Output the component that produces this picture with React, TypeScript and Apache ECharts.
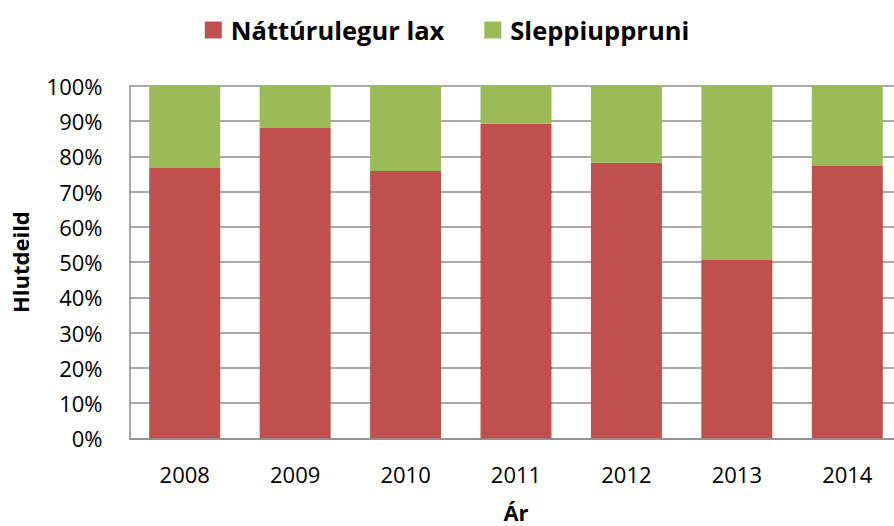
import React, { useEffect, useRef } from "react";
import * as echarts from "echarts";

const years = ["2008", "2009", "2010", "2011", "2012", "2013", "2014"];
const wildSalmon = [76.7, 88.1, 75.9, 89.3, 78.2, 50.6, 77.3];
const escapedOrigin = [23.3, 11.9, 24.1, 10.7, 21.8, 49.4, 22.7];
const seriesNames = ["Náttúrulegur lax", "Sleppiuppruni"];

const FONT = "'Open Sans', sans-serif";

export default function App() {
  const ref = useRef<HTMLDivElement>(null);
  useEffect(() => {
    if (!ref.current) return;
    const chart = echarts.init(ref.current, undefined, { renderer: "svg" });
    chart.setOption({
      animation: false,
      backgroundColor: "#ffffff",
      textStyle: { fontFamily: FONT },
      legend: {
        top: 12,
        left: "center",
        itemWidth: 17,
        itemHeight: 17,
        itemGap: 40,
        icon: "rect",
        textStyle: { fontSize: 25.5, fontWeight: "bold", color: "#000", fontFamily: FONT, padding: [0, 0, 0, 4] },
        data: seriesNames,
      },
      grid: { left: 129.5, width: 773, top: 86, bottom: 87.7, outerBoundsMode: "none", containLabel: false },
      xAxis: {
        type: "category",
        data: years,
        name: "Ár",
        nameLocation: "middle",
        nameGap: 63,
        nameTextStyle: { fontSize: 22, fontWeight: "bold", color: "#000", fontFamily: FONT },
        axisLine: { lineStyle: { color: "#8c8c8c", width: 1.5 } },
        axisTick: { show: false },
        axisLabel: { fontSize: 22, color: "#000", margin: 25, fontFamily: FONT },
      },
      yAxis: {
        type: "value",
        min: 0,
        max: 100,
        interval: 10,
        name: "Hlutdeild",
        nameLocation: "middle",
        nameGap: 99,
        nameTextStyle: { fontSize: 22, fontWeight: "bold", color: "#000", fontFamily: FONT },
        axisLine: { show: true, lineStyle: { color: "#8c8c8c", width: 1.5 } },
        axisTick: { show: false },
        splitLine: { lineStyle: { color: "#8c8c8c", width: 1.5 } },
        axisLabel: { fontSize: 22, color: "#000", margin: 27, formatter: "{value}%", fontFamily: FONT },
      },
      series: [
        {
          name: seriesNames[0],
          type: "bar",
          stack: "total",
          data: wildSalmon,
          barCategoryGap: "35.7%",
          itemStyle: { color: "#C0504D" },
        },
        {
          name: seriesNames[1],
          type: "bar",
          stack: "total",
          data: escapedOrigin,
          barCategoryGap: "35.7%",
          itemStyle: { color: "#9BBB59" },
        },
      ],
    });
    return () => chart.dispose();
  }, []);
  return (
    <div
      ref={ref}
      style={{ position: "fixed", left: 0, top: 0, width: 894, height: 526 }}
    />
  );
}
